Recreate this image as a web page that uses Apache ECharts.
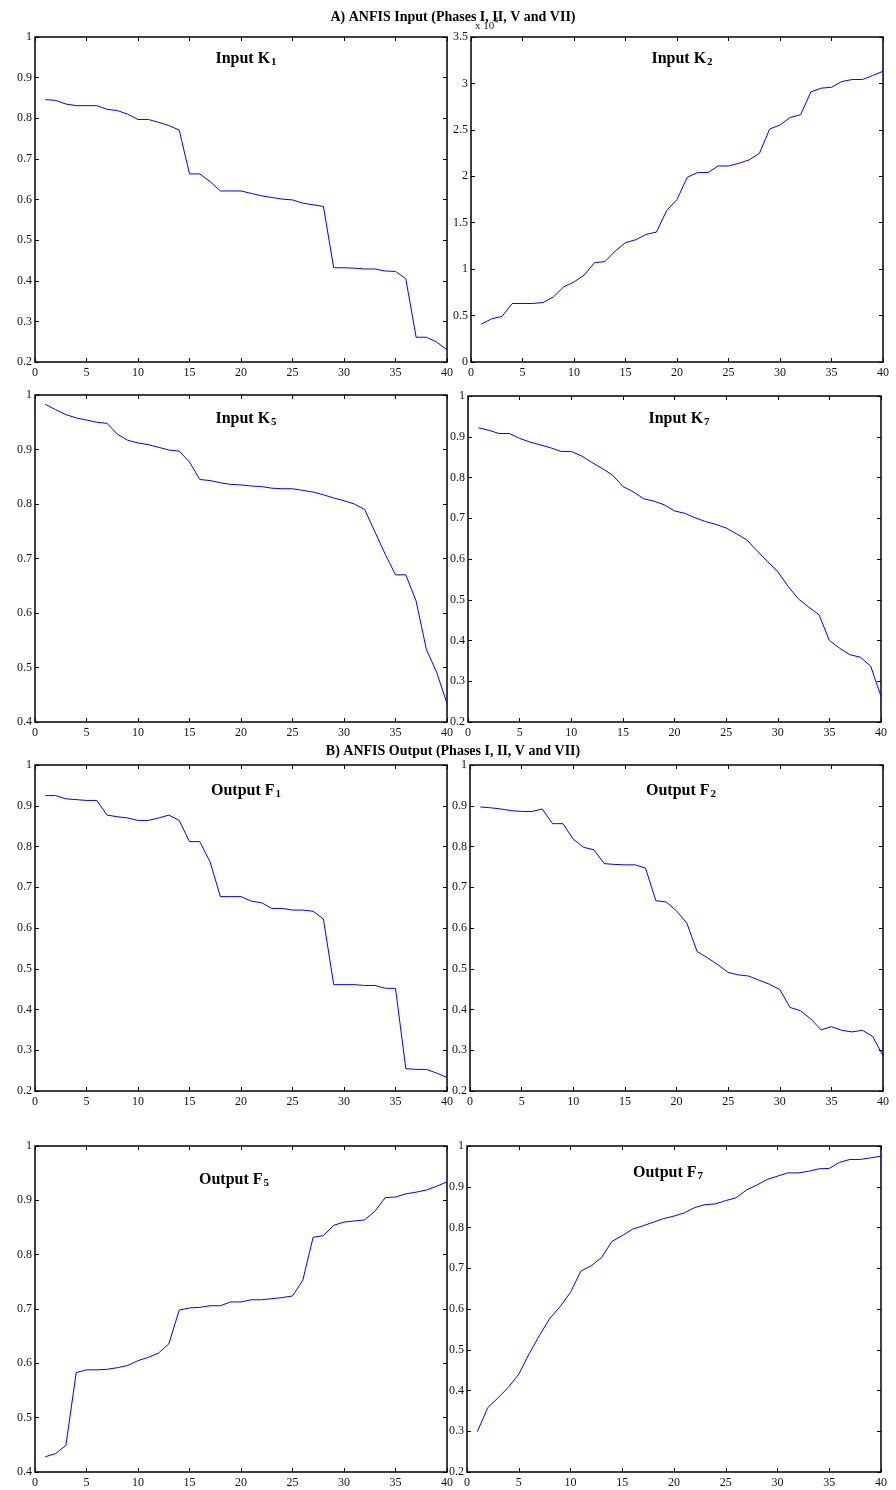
<!DOCTYPE html>
<html>
<head>
<meta charset="utf-8">
<script src="https://cdn.jsdelivr.net/npm/echarts@6/dist/echarts.min.js"></script>
<style>
  html, body { margin: 0; padding: 0; background: #fff; }
  #chart { width: 896px; height: 1490px; }
</style>
</head>
<body>
<div id="chart"></div>
<script>
// sample index (x axis)
const runs = [1, 2, 3, 4, 5, 6, 7, 8, 9, 10, 11, 12, 13, 14, 15, 16, 17, 18, 19, 20,
  21, 22, 23, 24, 25, 26, 27, 28, 29, 30, 31, 32, 33, 34, 35, 36, 37, 38, 39, 40]

// A) ANFIS inputs
const inputK1 = [0.846, 0.844, 0.835, 0.831, 0.831, 0.831, 0.822, 0.819, 0.810, 0.797,
  0.797, 0.790, 0.782, 0.771, 0.663, 0.663, 0.644, 0.621, 0.621, 0.621,
  0.615, 0.609, 0.605, 0.601, 0.599, 0.591, 0.587, 0.583, 0.432, 0.432,
  0.431, 0.429, 0.429, 0.424, 0.423, 0.405, 0.261, 0.261, 0.249, 0.230]
// K2 in units of 10^4
const inputK2 = [0.408, 0.465, 0.490, 0.630, 0.630, 0.630, 0.641, 0.701, 0.809, 0.862,
  0.938, 1.070, 1.081, 1.195, 1.285, 1.317, 1.374, 1.399, 1.632, 1.750,
  1.990, 2.040, 2.040, 2.111, 2.111, 2.140, 2.176, 2.247, 2.509, 2.552,
  2.634, 2.663, 2.909, 2.949, 2.959, 3.020, 3.042, 3.042, 3.085, 3.131]
const inputK5 = [0.983, 0.973, 0.964, 0.958, 0.954, 0.950, 0.948, 0.928, 0.917, 0.912,
  0.909, 0.904, 0.899, 0.897, 0.877, 0.845, 0.843, 0.839, 0.836, 0.835,
  0.833, 0.832, 0.829, 0.828, 0.828, 0.825, 0.822, 0.817, 0.811, 0.806,
  0.800, 0.790, 0.749, 0.708, 0.670, 0.670, 0.622, 0.533, 0.491, 0.434]
const inputK7 = [0.922, 0.916, 0.908, 0.908, 0.896, 0.887, 0.880, 0.873, 0.864, 0.864,
  0.853, 0.837, 0.822, 0.806, 0.778, 0.765, 0.748, 0.742, 0.733, 0.718,
  0.712, 0.701, 0.692, 0.685, 0.676, 0.662, 0.647, 0.620, 0.594, 0.569,
  0.533, 0.502, 0.482, 0.463, 0.400, 0.381, 0.365, 0.359, 0.337, 0.263]

// B) ANFIS outputs
const outputF1 = [0.925, 0.925, 0.917, 0.915, 0.913, 0.913, 0.877, 0.873, 0.870, 0.864,
  0.864, 0.870, 0.877, 0.864, 0.812, 0.812, 0.762, 0.677, 0.677, 0.677,
  0.666, 0.662, 0.648, 0.648, 0.644, 0.644, 0.641, 0.622, 0.461, 0.461,
  0.461, 0.459, 0.459, 0.452, 0.452, 0.255, 0.253, 0.253, 0.244, 0.233]
const outputF2 = [0.897, 0.895, 0.892, 0.888, 0.886, 0.886, 0.892, 0.856, 0.856, 0.818,
  0.798, 0.792, 0.758, 0.756, 0.755, 0.755, 0.747, 0.667, 0.664, 0.642,
  0.612, 0.542, 0.527, 0.510, 0.491, 0.485, 0.482, 0.472, 0.462, 0.449,
  0.405, 0.397, 0.377, 0.350, 0.358, 0.349, 0.345, 0.349, 0.334, 0.286]
const outputF5 = [0.428, 0.434, 0.449, 0.583, 0.588, 0.588, 0.589, 0.592, 0.596, 0.605,
  0.611, 0.619, 0.636, 0.698, 0.702, 0.703, 0.706, 0.706, 0.713, 0.713,
  0.717, 0.717, 0.719, 0.721, 0.724, 0.753, 0.832, 0.835, 0.854, 0.860,
  0.862, 0.864, 0.880, 0.905, 0.906, 0.912, 0.915, 0.919, 0.926, 0.934]
const outputF7 = [0.299, 0.358, 0.382, 0.408, 0.440, 0.490, 0.535, 0.577, 0.606, 0.641,
  0.693, 0.706, 0.726, 0.766, 0.780, 0.796, 0.804, 0.813, 0.822, 0.828,
  0.836, 0.849, 0.856, 0.858, 0.866, 0.873, 0.892, 0.904, 0.918, 0.926,
  0.934, 0.934, 0.938, 0.944, 0.945, 0.960, 0.967, 0.967, 0.971, 0.975]

const serif = 'Liberation Serif'

// 每个子图: 名称, 下标, 数据, y轴范围, 位置
const panels = [
  { name: 'Input K', sub: '1', data: inputK1, yMin: 0.2, yMax: 1, yStep: 0.1, left: 35, top: 37, w: 412, h: 325, tx: 241, ty: 46 },
  { name: 'Input K', sub: '2', data: inputK2, yMin: 0, yMax: 3.5, yStep: 0.5, left: 471, top: 37, w: 412, h: 325, tx: 677, ty: 46 },
  { name: 'Input K', sub: '5', data: inputK5, yMin: 0.4, yMax: 1, yStep: 0.1, left: 35, top: 395, w: 412, h: 327, tx: 241, ty: 406 },
  { name: 'Input K', sub: '7', data: inputK7, yMin: 0.2, yMax: 1, yStep: 0.1, left: 468, top: 396, w: 413, h: 326, tx: 674, ty: 406 },
  { name: 'Output F', sub: '1', data: outputF1, yMin: 0.2, yMax: 1, yStep: 0.1, left: 35, top: 765, w: 412, h: 326, tx: 241, ty: 778 },
  { name: 'Output F', sub: '2', data: outputF2, yMin: 0.2, yMax: 1, yStep: 0.1, left: 470, top: 765, w: 413, h: 326, tx: 676, ty: 778 },
  { name: 'Output F', sub: '5', data: outputF5, yMin: 0.4, yMax: 1, yStep: 0.1, left: 35, top: 1146, w: 412, h: 326, tx: 229, ty: 1167 },
  { name: 'Output F', sub: '7', data: outputF7, yMin: 0.2, yMax: 1, yStep: 0.1, left: 467, top: 1146, w: 414, h: 326, tx: 663, ty: 1160 }
]

const fmt = v => String(+v.toFixed(1))

const tickStyle = { show: true, inside: true, length: 4, lineStyle: { color: '#000', width: 1 } }
const lineOff = { show: false, onZero: false }
const labelStyle = { color: '#111', fontFamily: serif, fontSize: 12 }

const grid = []
const xAxis = []
const yAxis = []
const series = []
const title = []

panels.forEach((p, i) => {
  grid.push({
    left: p.left, top: p.top, width: p.w, height: p.h,
    show: true, borderColor: '#000', borderWidth: 1.5, backgroundColor: '#fff'
  })
  // bottom + top x axes
  xAxis.push({
    gridIndex: i, type: 'value', min: 0, max: 40, interval: 5, position: 'bottom',
    axisLine: lineOff, axisTick: tickStyle, splitLine: { show: false },
    axisLabel: { ...labelStyle, margin: 5, showMaxLabel: true, formatter: fmt }
  })
  xAxis.push({
    gridIndex: i, type: 'value', min: 0, max: 40, interval: 5, position: 'top',
    axisLine: lineOff, axisTick: tickStyle, splitLine: { show: false },
    axisLabel: { show: false }
  })
  // left + right y axes
  yAxis.push({
    gridIndex: i, type: 'value', min: p.yMin, max: p.yMax, interval: p.yStep, position: 'left',
    axisLine: lineOff, axisTick: tickStyle, splitLine: { show: false },
    axisLabel: { ...labelStyle, margin: 3, formatter: fmt }
  })
  yAxis.push({
    gridIndex: i, type: 'value', min: p.yMin, max: p.yMax, interval: p.yStep, position: 'right',
    axisLine: lineOff, axisTick: tickStyle, splitLine: { show: false },
    axisLabel: { show: false }
  })
  series.push({
    type: 'line',
    xAxisIndex: i * 2,
    yAxisIndex: i * 2,
    data: runs.map((r, j) => [r, p.data[j]]),
    showSymbol: false,
    lineStyle: { color: '#0000ff', width: 1 },
    z: 3
  })
  title.push({
    text: `{a|${p.name}}{s|${p.sub}}`,
    left: p.tx, top: p.ty, textAlign: 'center',
    textStyle: {
      rich: {
        a: { fontFamily: serif, fontWeight: 'bold', fontSize: 16, color: '#000', verticalAlign: 'top', lineHeight: 18 },
        s: { fontFamily: serif, fontWeight: 'bold', fontSize: 11, color: '#000', verticalAlign: 'top', lineHeight: 18, padding: [6, 0, 0, 1] }
      }
    }
  })
})

// section headings
title.push({
  text: 'A) ANFIS Input (Phases I, II, V and VII)',
  left: 448, top: 5, textAlign: 'center',
  textStyle: { fontFamily: serif, fontWeight: 'bold', fontSize: 14, color: '#000' }
})
title.push({
  text: 'B) ANFIS Output (Phases I, II, V and VII)',
  left: 448, top: 739, textAlign: 'center',
  textStyle: { fontFamily: serif, fontWeight: 'bold', fontSize: 14, color: '#000' }
})

const chart = echarts.init(document.getElementById('chart'), null, { renderer: 'canvas' })
chart.setOption({
  animation: false,
  backgroundColor: '#fff',
  title,
  grid,
  xAxis,
  yAxis,
  series,
  // K2 axis exponent
  graphic: [{
    type: 'text', left: 475, top: 17,
    style: {
      text: '{a|x 10}{b|4}',
      rich: {
        a: { fontFamily: serif, fontSize: 11, fill: '#222', verticalAlign: 'top', lineHeight: 14, padding: [4, 0, 0, 0] },
        b: { fontFamily: serif, fontSize: 8, fill: '#222', verticalAlign: 'top', lineHeight: 14 }
      }
    }
  }]
})
</script>
</body>
</html>
